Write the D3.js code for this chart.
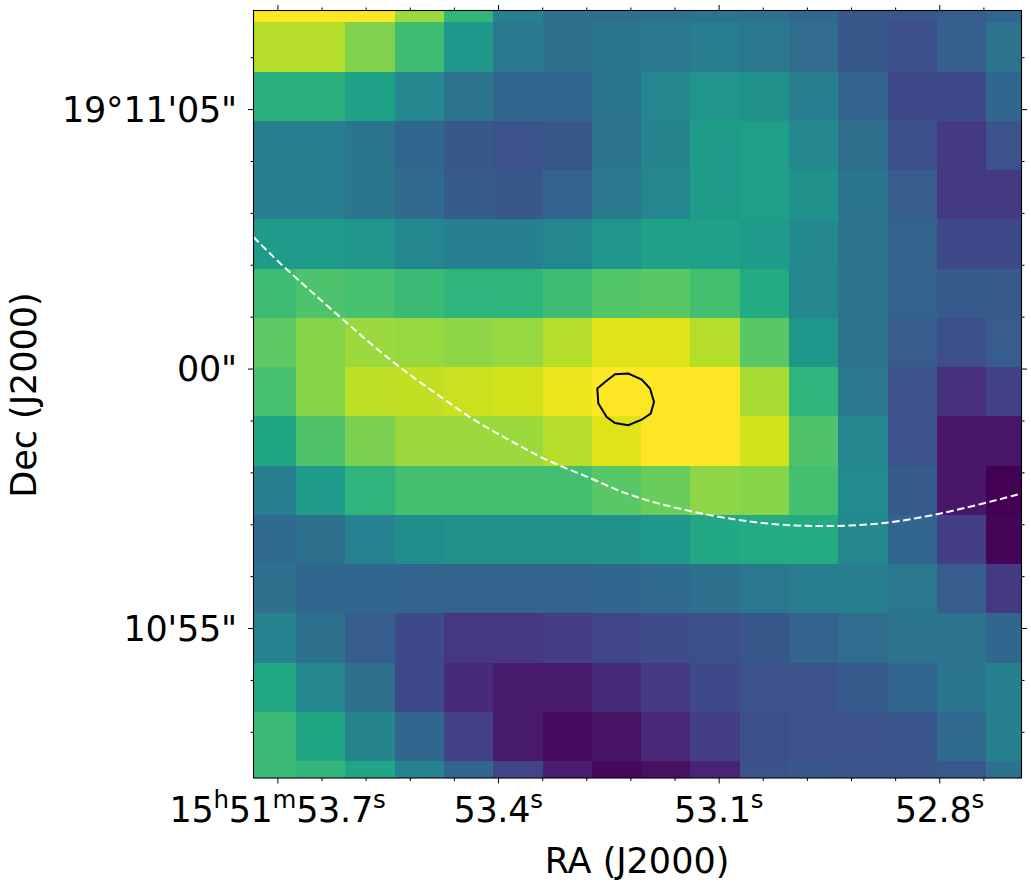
<!DOCTYPE html>
<html>
<head>
<meta charset="utf-8">
<title>RA Dec map</title>
<script src="https://d3js.org/d3.v7.min.js"></script>
<style>
  body { margin: 0; background: #fff; }
  svg { display: block; }
  text { font-family: "DejaVu Sans", sans-serif; fill: #000; }
</style>
</head>
<body>
<div id="chart"></div>
<script>
// normalised map values, north row first, east column first
var mapValues = [
  [1.00, 1.00, 1.00, 0.85, 0.66, 0.43, 0.37, 0.36, 0.37, 0.38, 0.37, 0.33, 0.27, 0.26, 0.29, 0.33],
  [0.89, 0.89, 0.81, 0.69, 0.53, 0.41, 0.37, 0.39, 0.40, 0.42, 0.40, 0.35, 0.27, 0.24, 0.30, 0.38],
  [0.64, 0.64, 0.57, 0.46, 0.38, 0.33, 0.33, 0.39, 0.46, 0.52, 0.50, 0.42, 0.32, 0.22, 0.22, 0.33],
  [0.42, 0.42, 0.39, 0.33, 0.27, 0.25, 0.27, 0.38, 0.45, 0.55, 0.56, 0.47, 0.36, 0.24, 0.17, 0.25],
  [0.42, 0.42, 0.39, 0.34, 0.28, 0.27, 0.32, 0.40, 0.46, 0.55, 0.56, 0.50, 0.39, 0.29, 0.17, 0.17],
  [0.55, 0.55, 0.52, 0.46, 0.43, 0.43, 0.46, 0.52, 0.57, 0.57, 0.55, 0.47, 0.38, 0.31, 0.22, 0.22],
  [0.69, 0.72, 0.71, 0.68, 0.65, 0.65, 0.69, 0.73, 0.74, 0.70, 0.61, 0.46, 0.38, 0.31, 0.28, 0.28],
  [0.75, 0.82, 0.85, 0.84, 0.83, 0.84, 0.89, 0.95, 0.95, 0.89, 0.74, 0.53, 0.38, 0.29, 0.24, 0.29],
  [0.71, 0.82, 0.90, 0.91, 0.92, 0.93, 0.97, 1.00, 1.00, 1.00, 0.87, 0.65, 0.40, 0.25, 0.14, 0.19],
  [0.59, 0.72, 0.80, 0.85, 0.85, 0.85, 0.89, 0.95, 1.00, 1.00, 0.93, 0.72, 0.46, 0.25, 0.06, 0.06],
  [0.42, 0.55, 0.65, 0.70, 0.70, 0.70, 0.70, 0.74, 0.77, 0.83, 0.82, 0.70, 0.48, 0.28, 0.06, 0.00],
  [0.34, 0.37, 0.44, 0.49, 0.50, 0.50, 0.50, 0.50, 0.53, 0.60, 0.61, 0.61, 0.47, 0.33, 0.18, 0.01],
  [0.37, 0.33, 0.33, 0.32, 0.32, 0.32, 0.32, 0.33, 0.34, 0.37, 0.40, 0.42, 0.42, 0.40, 0.29, 0.17],
  [0.44, 0.37, 0.29, 0.22, 0.16, 0.16, 0.18, 0.21, 0.23, 0.24, 0.27, 0.32, 0.35, 0.38, 0.38, 0.33],
  [0.60, 0.46, 0.36, 0.22, 0.12, 0.07, 0.07, 0.12, 0.17, 0.22, 0.25, 0.25, 0.28, 0.33, 0.39, 0.43],
  [0.68, 0.59, 0.45, 0.33, 0.19, 0.07, 0.03, 0.05, 0.11, 0.18, 0.24, 0.25, 0.25, 0.26, 0.34, 0.43],
  [0.68, 0.66, 0.59, 0.44, 0.33, 0.20, 0.08, 0.02, 0.04, 0.10, 0.25, 0.27, 0.26, 0.26, 0.28, 0.37]
];

// sky coordinates of the map grid (RA seconds, Dec arcsec from 19d11m00s)
var raStart = 53.7417, raStep = 0.06703;
var decStart = 7.622, decStep = 0.9493;

// white dashed curve
var curveRa = [53.7325, 53.692, 53.6149, 53.5424, 53.4744, 53.4336, 53.3882, 53.352, 53.3157, 53.2749, 53.2386,
  53.2093, 53.1753, 53.1073, 53.0482, 52.9939, 52.9486, 52.9033, 52.8579, 52.8035, 52.7491, 52.6879];
var curveDec = [2.534, 1.958, 0.994, 0.096, -0.578, -0.996, -1.349, -1.638, -1.882, -2.1, -2.345,
  -2.486, -2.634, -2.846, -2.975, -3.033, -3.039, -3.019, -2.956, -2.813, -2.634, -2.408];

// black contour
var contourRa = [53.265, 53.2545, 53.2409, 53.2228, 53.2046, 53.1933, 53.1879, 53.1924, 53.2046, 53.2228, 53.2409, 53.2522, 53.2636];
var contourDec = [-0.385, -0.258, -0.11, -0.096, -0.212, -0.385, -0.644, -0.867, -0.983, -1.092, -1.048, -0.933, -0.674];

// ticks
var raMajor = [53.7, 53.4, 53.1, 52.8];
var raMinor = [53.64, 53.58, 53.52, 53.46, 53.34, 53.28, 53.22, 53.16, 53.04, 52.98, 52.92, 52.86, 52.74];
var decMajor = [5, 0, -5];
var decMinor = [6, 4, 3, 2, 1, -1, -2, -3, -4, -6, -7];
var raLabels = [
  [["15", 0], ["h", 1], ["51", 0], ["m", 1], ["53.7", 0], ["s", 1]],
  [["53.4", 0], ["s", 1]],
  [["53.1", 0], ["s", 1]],
  [["52.8", 0], ["s", 1]]
];
var decLabels = ["19°11'05\"", "00\"", "10'55\""];

var width = 1031, height = 890;
var left = 253.5, right = 1021.5, top_ = 10.5, bottom = 778;
var fontSize = 35;

var svg = d3.select("#chart").append("svg").attr("width", width).attr("height", height);

var x = d3.scaleLinear().domain([53.7325, 52.6882]).range([left, right]);
var y = d3.scaleLinear().domain([6.9, -7.89]).range([top_, bottom]);
var color = d3.scaleSequential(d3.interpolateViridis).domain([0, 1]);

svg.append("clipPath").attr("id", "plot")
  .append("rect")
  .attr("x", left).attr("y", top_)
  .attr("width", right - left).attr("height", bottom - top_);

var plot = svg.append("g").attr("clip-path", "url(#plot)");

// map cells
mapValues.forEach(function(row, r) {
  plot.selectAll(".r" + r)
    .data(row)
    .enter().append("rect")
    .attr("class", "r" + r)
    .attr("x", function(d, c) { return x(raStart - c * raStep); })
    .attr("y", y(decStart - r * decStep))
    .attr("width", x(raStart - raStep) - x(raStart))
    .attr("height", y(decStart - decStep) - y(decStart))
    .attr("shape-rendering", "crispEdges")
    .attr("fill", function(d) { return color(d); });
});

var line = d3.line()
  .x(function(d) { return x(d[0]); })
  .y(function(d) { return y(d[1]); });

plot.append("path")
  .attr("d", line.curve(d3.curveBasis)(d3.zip(curveRa, curveDec)))
  .attr("fill", "none")
  .attr("stroke", "#fff")
  .attr("stroke-width", 2)
  .attr("stroke-dasharray", "7.5,3.5");

plot.append("path")
  .attr("d", line.curve(d3.curveLinearClosed)(d3.zip(contourRa, contourDec)))
  .attr("fill", "none")
  .attr("stroke", "#000")
  .attr("stroke-width", 2);

function drawAxis(axis, tx, ty) {
  var g = svg.append("g").attr("transform", "translate(" + tx + "," + ty + ")").call(axis);
  g.select(".domain").remove();
  g.selectAll("line").attr("stroke", "#000").attr("stroke-width", 1);
  return g;
}

// ticks on all four sides
[[d3.axisBottom, bottom], [d3.axisTop, top_]].forEach(function(a) {
  drawAxis(a[0](x).tickValues(raMajor).tickFormat("").tickSizeOuter(0).tickSizeInner(5.5), 0, a[1]);
  drawAxis(a[0](x).tickValues(raMinor).tickFormat("").tickSizeOuter(0).tickSizeInner(3), 0, a[1]);
});
[[d3.axisLeft, left], [d3.axisRight, right]].forEach(function(a) {
  drawAxis(a[0](y).tickValues(decMajor).tickFormat("").tickSizeOuter(0).tickSizeInner(5.5), a[1], 0);
  drawAxis(a[0](y).tickValues(decMinor).tickFormat("").tickSizeOuter(0).tickSizeInner(3), a[1], 0);
});

// frame
svg.append("rect")
  .attr("x", left).attr("y", top_)
  .attr("width", right - left).attr("height", bottom - top_)
  .attr("fill", "none").attr("stroke", "#000").attr("stroke-width", 1.1);

// RA tick labels, h m s raised
var raText = svg.selectAll(".ra-label")
  .data(raLabels)
  .enter().append("text")
  .attr("class", "ra-label")
  .attr("text-anchor", "middle")
  .attr("font-size", fontSize)
  .attr("letter-spacing", -0.3)
  .attr("x", function(d, i) { return x(raMajor[i]); })
  .attr("y", 822);

raText.each(function(parts) {
  var t = d3.select(this);
  parts.forEach(function(p, i) {
    var prev = i > 0 ? parts[i - 1][1] : 0;
    t.append("tspan")
      .attr("dy", (p[1] - prev) * -14)
      .attr("font-size", p[1] ? fontSize * 0.7 : fontSize)
      .text(p[0]);
  });
});

svg.selectAll(".dec-label")
  .data(decLabels)
  .enter().append("text")
  .attr("class", "dec-label")
  .attr("text-anchor", "end")
  .attr("font-size", fontSize)
  .attr("letter-spacing", -0.2)
  .attr("x", 237)
  .attr("y", function(d, i) { return y(decMajor[i]) + 12.5; })
  .text(function(d) { return d; });

svg.append("text")
  .attr("text-anchor", "middle")
  .attr("font-size", fontSize)
  .attr("x", 637)
  .attr("y", 873)
  .text("RA (J2000)");

svg.append("text")
  .attr("text-anchor", "middle")
  .attr("font-size", fontSize)
  .attr("transform", "translate(36,395) rotate(-90)")
  .text("Dec (J2000)");
</script>
</body>
</html>
